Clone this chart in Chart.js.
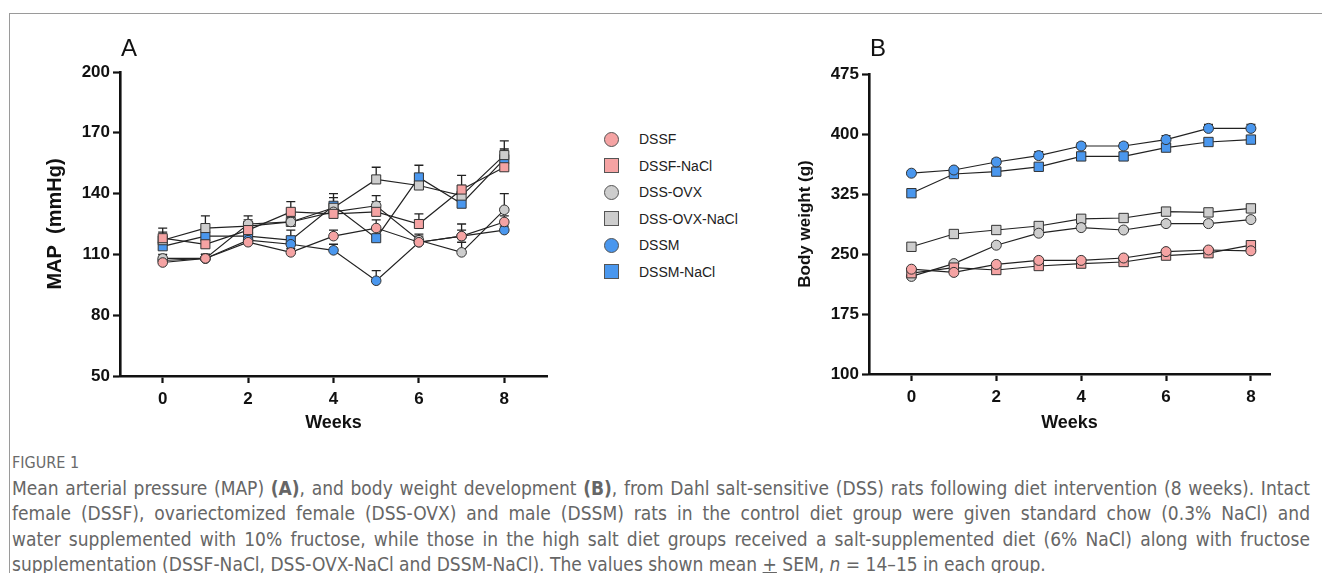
<!DOCTYPE html>
<html><head><meta charset="utf-8">
<script src="https://cdn.jsdelivr.net/npm/chart.js@4"></script>
<style>
body{margin:0;width:1322px;height:573px;background:#fff;position:relative;overflow:hidden;font-family:"Liberation Sans",Arial,sans-serif}
#frame{position:absolute;left:9px;top:13px;width:1400px;height:700px;border-left:1px solid #9a9a9a;border-top:1px solid #9a9a9a}
canvas{position:absolute;top:0}
#cA{left:0}
#cB{left:750px}
.plabel{position:absolute;font-size:24px;color:#111;line-height:24px}
#legend{position:absolute;left:604px;top:126px}
.li{height:26.5px;display:flex;align-items:center;font-size:14px;color:#222}
.mk{width:15px;height:15px;border:1px solid #555;margin-right:20px;box-sizing:border-box}
#fig{position:absolute;left:12px;top:453px;font-size:16px;color:#6a6a6a;font-family:"DejaVu Sans Condensed","Liberation Sans",sans-serif;font-stretch:condensed}
#cap{position:absolute;left:12px;top:476px;width:1298px;font-size:19px;line-height:25.3px;color:#666;font-family:"DejaVu Sans Condensed","Liberation Sans",sans-serif;font-stretch:condensed}
.ln{text-align:justify;text-align-last:justify;white-space:nowrap}
.ln.last{text-align-last:left}
</style>
</head><body>
<div id="frame"></div>
<canvas id="cA" width="560" height="440"></canvas>
<canvas id="cB" width="572" height="440"></canvas>
<div class="plabel" style="left:121px;top:36px">A</div>
<div class="plabel" style="left:870px;top:36px">B</div>
<div id="legend"></div>
<div id="fig">FIGURE 1</div>
<div id="cap">
<div class="ln">Mean arterial pressure (MAP) <b>(A)</b>, and body weight development <b>(B)</b>, from Dahl salt-sensitive (DSS) rats following diet intervention (8 weeks). Intact</div>
<div class="ln">female (DSSF), ovariectomized female (DSS-OVX) and male (DSSM) rats in the control diet group were given standard chow (0.3% NaCl) and</div>
<div class="ln">water supplemented with 10% fructose, while those in the high salt diet groups received a salt-supplemented diet (6% NaCl) along with fructose</div>
<div class="ln last">supplementation (DSSF-NaCl, DSS-OVX-NaCl and DSSM-NaCl). The values shown mean <u>+</u> SEM, <i>n</i> = 14–15 in each group.</div>
</div>
<script>
// ---- data ----
const weeks = [0, 1, 2, 3, 4, 5, 6, 7, 8];
const weekTicks = [0, 2, 4, 6, 8];
const groupNames = ['DSSF', 'DSSF-NaCl', 'DSS-OVX', 'DSS-OVX-NaCl', 'DSSM', 'DSSM-NaCl'];

// Panel A: MAP (mmHg)
const mapTicks = [50, 80, 110, 140, 170, 200];
const mapDSSF        = [106, 108, 116, 111, 119, 123, 116, 119, 126];
const mapDSSF_NaCl   = [118, 115, 122, 131, 130, 131, 125, 142, 153];
const mapOVX         = [108, 108, 125, 126, 131, 134, 117, 111, 132];
const mapOVX_NaCl    = [117, 123, 124, 126, 133, 147, 144, 139, 159];
const mapDSSM        = [107, 108, 117, 115, 112, 97, 116, 119, 122];
const mapDSSM_NaCl   = [114, 119, 119, 117, 134, 118, 148, 135, 157];
// SEM
const semDSSF        = [2, 2, 2, 2, 3, 4, 2, 6, 3];
const semDSSF_NaCl   = [5, 4, 3, 5, 4, 5, 5, 7, 4];
const semOVX         = [2, 2, 4, 3, 3, 5, 3, 5, 8];
const semOVX_NaCl    = [4, 6, 3, 4, 5, 6, 5, 5, 7];
const semDSSM        = [2, 2, 2, 3, 3, 5, 3, 3, 2];
const semDSSM_NaCl   = [4, 4, 4, 5, 6, 4, 6, 5, 5];

// Panel B: Body weight (g)
const bwTicks = [100, 175, 250, 325, 400, 475];
const bwDSSF         = [231, 227, 237, 242, 242, 245, 253, 255, 254];
const bwDSSF_NaCl    = [226, 233, 230, 235, 238, 240, 248, 251, 261];
const bwOVX          = [222, 238, 261, 276, 283, 280, 288, 288, 293];
const bwOVX_NaCl     = [259, 275, 280, 285, 294, 295, 303, 302, 307];
const bwDSSM         = [351, 355, 365, 373, 385, 385, 393, 407, 407];
const bwDSSM_NaCl    = [326, 350, 353, 359, 372, 372, 383, 390, 393];
const bwSemDSSF      = [2, 2, 2, 2, 2, 2, 2, 2, 2];
const bwSemDSSF_NaCl = [2, 2, 2, 2, 2, 2, 2, 2, 2];
const bwSemOVX       = [2, 2, 3, 3, 3, 3, 3, 3, 3];
const bwSemOVX_NaCl  = [2, 2, 2, 2, 3, 3, 3, 3, 3];
const bwSemDSSM      = [3, 3, 4, 5, 4, 4, 5, 5, 5];
const bwSemDSSM_NaCl = [2, 3, 3, 3, 4, 4, 4, 4, 4];

// ---- styles ----
const fills = ['#F5A3A3', '#F5A3A3', '#CDCDCD', '#CDCDCD', '#4A97EE', '#4A97EE'];
const shapes = ['circle', 'rect', 'circle', 'rect', 'circle', 'rect'];

// legend
const leg = document.getElementById('legend');
groupNames.forEach((n, i) => {
  const row = document.createElement('div'); row.className = 'li';
  const m = document.createElement('div'); m.className = 'mk';
  m.style.background = fills[i];
  if (shapes[i] === 'circle') m.style.borderRadius = '50%';
  const t = document.createElement('span'); t.textContent = n;
  row.appendChild(m); row.appendChild(t); leg.appendChild(row);
});

const errPlugin = {
  id: 'errbars',
  beforeDatasetsDraw(chart) {
    const ctx = chart.ctx, ys = chart.scales.y;
    chart.data.datasets.forEach((ds, di) => {
      if (!ds.sem) return;
      const meta = chart.getDatasetMeta(di);
      meta.data.forEach((pt, i) => {
        const yT = ys.getPixelForValue(ds.data[i].y + ds.sem[i]);
        ctx.save();
        ctx.strokeStyle = '#222'; ctx.lineWidth = 1.3;
        ctx.beginPath();
        ctx.moveTo(pt.x, pt.y); ctx.lineTo(pt.x, yT);
        ctx.moveTo(pt.x - 4.5, yT); ctx.lineTo(pt.x + 4.5, yT);
        ctx.stroke(); ctx.restore();
      });
    });
  }
};

function buildDatasets(series, sems, cr, rr) {
  return series.map((vals, i) => ({
    label: groupNames[i],
    data: weeks.map((w, k) => ({ x: w, y: vals[k] })),
    sem: sems[i],
    borderColor: '#222',
    borderWidth: 1.2,
    backgroundColor: fills[i],
    pointBackgroundColor: fills[i],
    pointBorderColor: '#333',
    pointBorderWidth: 1,
    pointStyle: shapes[i],
    pointRadius: shapes[i] === 'circle' ? cr : rr,
    tension: 0,
    fill: false
  }));
}

function makeChart(id, datasets, cfg) {
  const tickFont = { family: 'Liberation Sans, Arial, sans-serif', size: 17, weight: 'bold' };
  return new Chart(document.getElementById(id), {
    type: 'line',
    data: { datasets },
    plugins: [errPlugin],
    options: {
      responsive: false, animation: false, devicePixelRatio: 1,
      layout: { padding: { left: 0, top: cfg.top, right: cfg.right, bottom: 0 } },
      plugins: { legend: { display: false }, tooltip: { enabled: false } },
      scales: {
        x: {
          type: 'linear', min: -1, max: cfg.xmax,
          afterBuildTicks: s => { s.ticks = weekTicks.map(v => ({ value: v })); },
          afterFit: s => { s.height = cfg.xh; },
          grid: { display: true, drawOnChartArea: false, drawTicks: true, tickLength: 7, tickWidth: 2.2, tickColor: '#111' },
          border: { display: true, color: '#111', width: 2.6 },
          ticks: { color: '#111', font: tickFont, padding: 6, maxRotation: 0 },
          title: { display: true, text: 'Weeks', color: '#111', font: { family: 'Liberation Sans, Arial, sans-serif', size: 18, weight: 'bold' }, padding: { top: 0, bottom: 6 } }
        },
        y: {
          type: 'linear', min: cfg.ymin, max: cfg.ymax,
          afterBuildTicks: s => { s.ticks = cfg.yticks.map(v => ({ value: v })); },
          afterFit: s => { s.width = cfg.yw; },
          grid: { display: true, drawOnChartArea: false, drawTicks: true, tickLength: 7, tickWidth: 2.2, tickColor: '#111' },
          border: { display: true, color: '#111', width: 2.6 },
          ticks: { color: '#111', font: tickFont, padding: 3 },
          title: { display: true, text: cfg.ytitle, color: '#111', font: { family: 'Liberation Sans, Arial, sans-serif', size: cfg.ytsize, weight: 'bold' }, padding: { top: cfg.ytpad, bottom: 0 } }
        }
      }
    }
  });
}

makeChart('cA',
  buildDatasets([mapDSSF, mapDSSF_NaCl, mapOVX, mapOVX_NaCl, mapDSSM, mapDSSM_NaCl],
                [semDSSF, semDSSF_NaCl, semOVX, semOVX_NaCl, semDSSM, semDSSM_NaCl], 4.8, 6.4),
  { top: 72, right: 13, xmax: 9, xh: 64, yw: 120, ymin: 50, ymax: 200, yticks: mapTicks, ytitle: 'MAP  (mmHg)', ytsize: 20, ytpad: 43 });

makeChart('cB',
  buildDatasets([bwDSSF, bwDSSF_NaCl, bwOVX, bwOVX_NaCl, bwDSSM, bwDSSM_NaCl],
                [bwSemDSSF, bwSemDSSF_NaCl, bwSemOVX, bwSemOVX_NaCl, bwSemDSSM, bwSemDSSM_NaCl], 5, 6.6),
  { top: 74, right: 52, xmax: 8.45, xh: 66, yw: 119, ymin: 100, ymax: 475, yticks: bwTicks, ytitle: 'Body weight (g)', ytsize: 17, ytpad: 45 });
</script>
</body></html>
